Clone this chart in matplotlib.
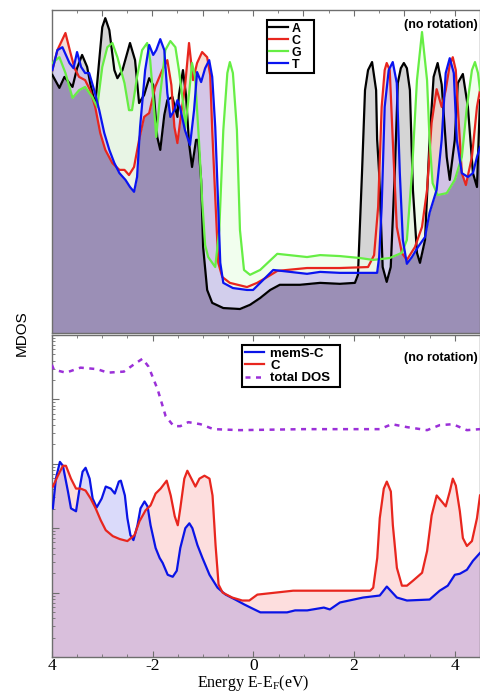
import numpy as np
import matplotlib
matplotlib.use('Agg')
import matplotlib.pyplot as plt
from matplotlib.ticker import MultipleLocator, LogLocator, NullFormatter, FixedLocator

plt.rcParams['font.family'] = ['Liberation Sans', 'DejaVu Sans']

# ---------------- top panel: MDOS of the bases (no rotation), arbitrary linear units
a_x = [-3.98, -3.84, -3.74, -3.58, -3.49, -3.39, -3.29, -3.23, -3.13, -3.05, -2.99, -2.93, -2.85, -2.75,
       -2.69, -2.59, -2.44, -2.34, -2.26, -2.16, -2.06, -1.98, -1.90, -1.84, -1.76, -1.70, -1.60, -1.50,
       -1.47, -1.39, -1.33, -1.27, -1.21, -1.13, -1.09, -1.03, -0.99, -0.91, -0.81, -0.59, -0.26, -0.06,
       0.14, 0.34, 0.53, 0.93, 1.33, 1.72, 2.02, 2.08, 2.16, 2.22, 2.28, 2.36, 2.44, 2.46, 2.50, 2.57,
       2.65, 2.73, 2.81, 2.87, 2.93, 2.99, 3.05, 3.11, 3.17, 3.25, 3.31, 3.41, 3.50, 3.58, 3.66, 3.74,
       3.84, 3.90, 4.00, 4.06, 4.16, 4.26, 4.36, 4.44, 4.50]
a_y = [0.799, 0.759, 0.793, 0.762, 0.820, 0.861, 0.824, 0.774, 0.706, 0.845, 0.947, 0.975, 0.938, 0.814,
       0.789, 0.814, 0.898, 0.845, 0.712, 0.737, 0.789, 0.768, 0.607, 0.567, 0.675, 0.721, 0.731, 0.669,
       0.737, 0.814, 0.737, 0.588, 0.514, 0.598, 0.598, 0.474, 0.266, 0.133, 0.093, 0.077, 0.074, 0.087,
       0.108, 0.133, 0.149, 0.149, 0.155, 0.152, 0.155, 0.180, 0.495, 0.752, 0.814, 0.839, 0.752, 0.600, 0.495, 0.204,
       0.158, 0.204, 0.495, 0.774, 0.820, 0.836, 0.820, 0.752, 0.443, 0.248, 0.217, 0.288, 0.598, 0.793, 0.836, 0.770,
       0.545, 0.474, 0.598, 0.774, 0.802, 0.700, 0.495, 0.452, 0.721]

c_x = [-3.98, -3.88, -3.72, -3.62, -3.54, -3.45, -3.33, -3.23, -3.13, -3.03, -2.93, -2.79, -2.65, -2.55,
       -2.46, -2.36, -2.26, -2.16, -2.06, -1.94, -1.80, -1.70, -1.62, -1.56, -1.50, -1.43, -1.35, -1.27,
       -1.19, -1.11, -1.01, -0.91, -0.85, -0.81, -0.75, -0.69, -0.61, -0.46, -0.12, 0.08, 0.28, 0.48,
       1.07, 1.72, 2.28, 2.40, 2.48, 2.55, 2.61, 2.65, 2.71, 2.77, 2.85, 2.95, 3.05, 3.21, 3.35, 3.45,
       3.54, 3.64, 3.74, 3.82, 3.90, 3.96, 4.02, 4.06, 4.14, 4.22, 4.34, 4.44, 4.50]
c_y = [0.814, 0.876, 0.929, 0.867, 0.820, 0.793, 0.783, 0.752, 0.700, 0.619, 0.567, 0.526, 0.505, 0.505,
       0.489, 0.514, 0.598, 0.669, 0.681, 0.762, 0.814, 0.845, 0.768, 0.638, 0.588, 0.675, 0.762, 0.898,
       0.783, 0.836, 0.870, 0.854, 0.799, 0.628, 0.421, 0.217, 0.173, 0.155, 0.142, 0.155, 0.173, 0.192,
       0.201, 0.201, 0.204, 0.241, 0.390, 0.700, 0.814, 0.836, 0.814, 0.598, 0.328, 0.248, 0.226, 0.266, 0.328, 0.443,
       0.650, 0.755, 0.700, 0.752, 0.830, 0.854, 0.814, 0.700, 0.495, 0.458, 0.545, 0.700, 0.752]

g_x = [-3.98, -3.84, -3.72, -3.58, -3.45, -3.33, -3.19, -3.09, -2.99, -2.89, -2.79, -2.69, -2.55, -2.46,
       -2.40, -2.30, -2.20, -2.10, -2.04, -1.96, -1.92, -1.84, -1.74, -1.64, -1.54, -1.47, -1.37, -1.35,
       -1.27, -1.21, -1.15, -1.07, -1.01, -0.95, -0.89, -0.75, -0.67, -0.59, -0.51, -0.46, -0.40, -0.32,
       -0.26, -0.18, -0.06, 0.14, 0.48, 1.07, 1.33, 1.72, 2.12, 2.38, 2.71, 2.95, 3.05, 3.15, 3.25, 3.35,
       3.45, 3.50, 3.56, 3.66, 3.84, 4.00, 4.14, 4.24, 4.34, 4.40, 4.46, 4.50]
g_y = [0.836, 0.854, 0.805, 0.728, 0.752, 0.762, 0.731, 0.700, 0.824, 0.885, 0.898, 0.854, 0.774, 0.690,
       0.690, 0.793, 0.876, 0.898, 0.845, 0.690, 0.607, 0.740, 0.876, 0.904, 0.885, 0.814, 0.690, 0.628,
       0.740, 0.836, 0.793, 0.588, 0.412, 0.272, 0.235, 0.204, 0.319, 0.628, 0.805, 0.839, 0.805, 0.628,
       0.319, 0.195, 0.180, 0.195, 0.245, 0.235, 0.241, 0.238, 0.232, 0.226, 0.232, 0.248, 0.288, 0.495, 0.783, 0.932,
       0.783, 0.598, 0.464, 0.427, 0.433, 0.474, 0.545, 0.700, 0.814, 0.839, 0.805, 0.752]

t_x = [-3.98, -3.88, -3.78, -3.64, -3.56, -3.49, -3.41, -3.33, -3.25, -3.15, -3.05, -2.95, -2.85, -2.75,
       -2.65, -2.53, -2.44, -2.36, -2.30, -2.24, -2.14, -2.06, -1.98, -1.92, -1.84, -1.76, -1.70, -1.64,
       -1.56, -1.50, -1.45, -1.35, -1.25, -1.17, -1.11, -1.03, -0.95, -0.87, -0.81, -0.75, -0.71, -0.65,
       -0.59, -0.40, -0.12, 0.00, 0.40, 1.07, 1.33, 1.72, 2.46, 2.50, 2.55, 2.61, 2.69, 2.77, 2.85, 2.91,
       2.97, 3.05, 3.15, 3.27, 3.41, 3.50, 3.64, 3.74, 3.82, 3.90, 3.98, 4.04, 4.14, 4.26, 4.36, 4.44, 4.50]
t_y = [0.814, 0.876, 0.885, 0.836, 0.820, 0.870, 0.824, 0.805, 0.805, 0.752, 0.690, 0.619, 0.567, 0.526,
       0.495, 0.474, 0.452, 0.437, 0.483, 0.638, 0.814, 0.892, 0.861, 0.876, 0.910, 0.876, 0.743, 0.669,
       0.690, 0.721, 0.700, 0.628, 0.582, 0.690, 0.808, 0.777, 0.820, 0.845, 0.793, 0.638, 0.474, 0.217,
       0.155, 0.139, 0.133, 0.133, 0.195, 0.183, 0.189, 0.186, 0.186, 0.235, 0.390, 0.700, 0.814, 0.839, 0.774, 0.495,
       0.288, 0.214, 0.235, 0.266, 0.297, 0.372, 0.443, 0.598, 0.805, 0.851, 0.805, 0.598, 0.495, 0.483, 0.495, 0.545, 0.576]

# ---------------- bottom panel: MDOS, log scale
tot_x = [-4.00, -3.96, -3.72, -3.43, -3.10, -2.89, -2.57, -2.38, -2.20, -2.08, -1.90, -1.74, -1.58, -1.45,
         -1.29, -1.05, -0.79, -0.26, 1.00, 2.51, 2.75, 3.05, 3.45, 3.70, 3.96, 4.24, 4.50]
tot_y = [34.5, 28.9, 26.0, 31.1, 29.5, 26.0, 27.0, 34.5, 42.8, 32.2, 14.3, 5.47, 3.84, 3.84,
         4.43, 4.12, 3.45, 3.33, 3.45, 3.45, 4.12, 3.71, 3.33, 3.98, 4.12, 3.33, 3.45]

mem_x = [-3.98, -3.92, -3.84, -3.78, -3.68, -3.62, -3.52, -3.45, -3.39, -3.33, -3.25, -3.19, -3.11, -3.01,
         -2.93, -2.83, -2.75, -2.67, -2.63, -2.55, -2.50, -2.44, -2.38, -2.30, -2.24, -2.16, -2.10, -2.04,
         -1.94, -1.86, -1.80, -1.70, -1.60, -1.52, -1.45, -1.35, -1.27, -1.21, -1.11, -1.01, -0.87, -0.71,
         -0.55, -0.36, -0.18, -0.02, 0.14, 0.67, 0.83, 1.07, 1.40, 1.52, 1.72, 2.18, 2.51, 2.65, 2.85, 3.05,
         3.50, 3.70, 3.86, 4.00, 4.10, 4.24, 4.36, 4.50]
mem_y = [0.203, 0.588, 1.07, 0.931, 0.371, 0.203, 0.183, 0.412, 0.753, 0.867, 0.588, 0.289, 0.210, 0.289,
         0.443, 0.412, 0.345, 0.529, 0.547, 0.322, 0.143, 0.078, 0.0653, 0.111, 0.203, 0.260, 0.218, 0.111,
         0.0493, 0.0345, 0.0289, 0.0189, 0.0176, 0.0218, 0.0493, 0.100, 0.119, 0.100, 0.0547, 0.0345, 0.0189, 0.0119,
         0.0093, 0.0078, 0.00654, 0.00567, 0.00493, 0.00493, 0.00529, 0.00529, 0.00585, 0.00547, 0.00702, 0.00838, 0.0090, 0.0124, 0.00838, 0.00753,
         0.0078, 0.0107, 0.0128, 0.0189, 0.0196, 0.0226, 0.0311, 0.0412]

cc_x = [-3.98, -3.88, -3.78, -3.72, -3.62, -3.52, -3.43, -3.33, -3.23, -3.13, -3.03, -2.93, -2.79, -2.65,
        -2.50, -2.36, -2.26, -2.14, -2.04, -1.94, -1.84, -1.72, -1.64, -1.56, -1.50, -1.45, -1.37, -1.31,
        -1.23, -1.15, -1.07, -0.97, -0.87, -0.81, -0.75, -0.69, -0.61, -0.42, -0.22, -0.08, 0.08, 0.79,
        2.32, 2.38, 2.46, 2.51, 2.59, 2.65, 2.73, 2.77, 2.85, 2.95, 3.05, 3.17, 3.35, 3.45, 3.54, 3.64,
        3.74, 3.82, 3.90, 3.96, 4.02, 4.10, 4.16, 4.24, 4.34, 4.44, 4.50]
cc_y = [0.443, 0.653, 0.931, 0.931, 0.588, 0.412, 0.412, 0.384, 0.289, 0.203, 0.133, 0.0931, 0.0753, 0.0677,
        0.0631, 0.078, 0.128, 0.189, 0.226, 0.345, 0.412, 0.547, 0.322, 0.153, 0.111, 0.203, 0.588, 0.780,
        0.588, 0.443, 0.588, 0.653, 0.588, 0.322, 0.0547, 0.0133, 0.0100, 0.00838, 0.00753, 0.00753, 0.0093, 0.0107,
        0.0107, 0.0119, 0.0345, 0.143, 0.412, 0.529, 0.371, 0.111, 0.0242, 0.0128, 0.0128, 0.0153, 0.0203, 0.0443, 0.158, 0.322,
        0.260, 0.218, 0.371, 0.588, 0.459, 0.183, 0.0702, 0.0529, 0.0631, 0.143, 0.322]

xticks = [-4, -2, 0, 2, 4]
xticklabels = ['4', '-2', '0', '2', '4']

fig = plt.figure(figsize=(4.8, 6.95), dpi=100)
L = 0.108
ax1 = fig.add_axes([L, 0.521, 1 - L, 0.4645])
ax2 = fig.add_axes([L, 0.0547, 1 - L, 0.4633])

XMIN, XMAX = -3.99, 4.5
spine_col = '#6e6e6e'

# ---- top fills
xg = np.linspace(XMIN, XMAX, 3000)
top_series = [(a_x, a_y, 'black', 'A', '#b4b4b4', 0.55),
              (c_x, c_y, '#e8261e', 'C', '#f5cfc4', 0.7),
              (g_x, g_y, '#66ee44', 'G', '#eefeea', 0.8),
              (t_x, t_y, '#0a14f0', 'T', '#c6bdf0', 0.7)]
interp = [np.interp(xg, s[0], s[1]) for s in top_series]
base = np.min(interp, axis=0)
ax1.fill_between(xg, 0, base, color='#9b8fb6', lw=0, zorder=1)
for yi, s in zip(interp, top_series):
    ax1.fill_between(xg, base, yi, color=s[4], alpha=s[5], lw=0, zorder=1)
for s in top_series:
    ax1.plot(s[0], s[1], color=s[2], lw=1.6, label=s[3] + '   ', zorder=3,
             solid_joinstyle='round')
ax1.set_xlim(XMIN, XMAX)
ax1.set_ylim(0, 1)
ax1.set_yticks([])
ax1.xaxis.set_major_locator(MultipleLocator(1))
ax1.xaxis.set_minor_locator(MultipleLocator(0.5))
ax1.tick_params(axis='x', which='both', direction='in', top=True, bottom=False,
                labelbottom=False, color=spine_col)
ax1.tick_params(axis='x', which='major', length=4)
ax1.tick_params(axis='x', which='minor', length=2.5)
leg1 = ax1.legend(loc='upper left', bbox_to_anchor=(0.502, 0.969), borderaxespad=0,
                  prop={'weight': 'bold', 'size': 9}, handlelength=1.5, handletextpad=0.3,
                  borderpad=0.2, labelspacing=0.0, fancybox=False, framealpha=1)
leg1.get_frame().set_edgecolor('black')
leg1.get_frame().set_linewidth(1.5)
ax1.text(0.995, 0.954, '(no rotation)', transform=ax1.transAxes, ha='right', va='center',
         fontsize=9, fontweight='bold')

# ---- bottom panel
YMIN, YMAX = 1e-3, 1e2
bi = np.interp(xg, mem_x, mem_y)
ci = np.interp(xg, cc_x, cc_y)
bbase = np.minimum(bi, ci)
ax2.fill_between(xg, YMIN, bbase, color='#d9bfdc', lw=0, zorder=1)
ax2.fill_between(xg, bbase, bi, color='#dadafa', lw=0, zorder=1)
ax2.fill_between(xg, bbase, ci, color='#fddede', lw=0, zorder=1)
ax2.plot(mem_x, mem_y, color='#0a14e6', lw=1.6, label='memS-C  ', zorder=3, solid_joinstyle='round')
ax2.plot(cc_x, cc_y, color='#e8261e', lw=1.6, label='C', zorder=3, solid_joinstyle='round')
ax2.plot(tot_x, tot_y, color='#9b30d8', lw=1.8, ls=(0, (2.0, 2.2)), label='total DOS  ', zorder=3)
ax2.set_yscale('log')
ax2.set_xlim(XMIN, XMAX)
ax2.set_ylim(YMIN, YMAX)
ax2.yaxis.set_major_locator(LogLocator(base=10, numticks=10))
ax2.yaxis.set_minor_locator(LogLocator(base=10, subs=np.arange(2, 10), numticks=20))
ax2.yaxis.set_major_formatter(NullFormatter())
ax2.yaxis.set_minor_formatter(NullFormatter())
ax2.tick_params(axis='y', which='both', direction='in', left=True, right=False, color=spine_col)
ax2.tick_params(axis='y', which='major', length=5)
ax2.tick_params(axis='y', which='minor', length=2.5)
ax2.set_xticks(xticks, labels=xticklabels)
ax2.xaxis.set_minor_locator(FixedLocator([-3.5, -3, -2.5, -1.5, -1, -0.5, 0.5, 1, 1.5,
                                          2.5, 3, 3.5, 4.5]))
ax2.tick_params(axis='x', which='both', direction='in', top=True, bottom=True, color=spine_col)
ax2.tick_params(axis='x', which='major', length=4.5, pad=0.5)
ax2.tick_params(axis='x', which='minor', length=2.5)
for lab in ax2.get_xticklabels():
    lab.set_fontfamily('Liberation Serif')
    lab.set_fontsize(12.5)
xl = ax2.set_xlabel('Energy E-E$_\\mathregular{F}$(eV)', fontfamily='Liberation Serif',
                    fontsize=11.5)
xl.set_verticalalignment('bottom')
ax2.xaxis.set_label_coords(0.528, 0.003, transform=fig.transFigure)

leg2 = ax2.legend(loc='upper left', bbox_to_anchor=(0.444, 0.969), borderaxespad=0,
                  prop={'weight': 'bold', 'size': 9.5}, handlelength=1.5, handletextpad=0.45,
                  borderpad=0.2, labelspacing=0.0, fancybox=False, framealpha=1)
leg2.get_frame().set_edgecolor('black')
leg2.get_frame().set_linewidth(1.5)
ax2.text(0.995, 0.93, '(no rotation)', transform=ax2.transAxes, ha='right', va='center',
         fontsize=9, fontweight='bold')

for ax in (ax1, ax2):
    for sp in ax.spines.values():
        sp.set_color(spine_col)
        sp.set_linewidth(1.0)

fig.text(0.045, 0.52, 'MDOS', rotation=90, ha='center', va='center', fontsize=11)

fig.savefig('out.png', dpi=100)
